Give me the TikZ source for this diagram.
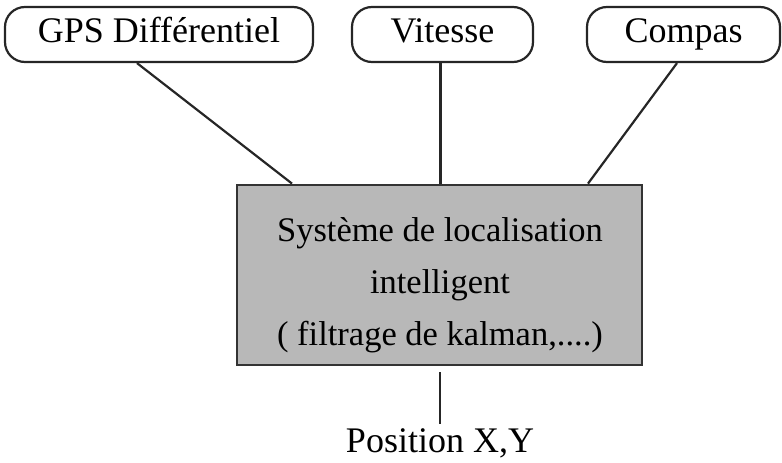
\documentclass[tikz,border=0pt]{standalone}
\usepackage{fontspec}
\setmainfont{Liberation Serif}
\usetikzlibrary{calc}
\begin{document}
\begin{tikzpicture}[x=1pt,y=-1pt,
  sensor/.style={draw=black!85, line width=2.2pt, rounded corners=20pt, minimum height=55pt,
    font=\fontsize{36}{42}\selectfont, text height=24pt, text depth=8pt, inner sep=0pt},
  conn/.style={draw=black!85, line width=2.2pt},
  mainbox/.style={draw=black!80, line width=2.8pt, fill=black!28, minimum width=405pt, minimum height=180pt, inner sep=0pt},
  lbl/.style={font=\fontsize{34.5}{52}\selectfont, align=center, inner sep=0pt}]
\useasboundingbox (0,0) rectangle (782,463);
\node[sensor, minimum width=308pt] (gps) at (159,34.5) {GPS Différentiel};
\node[sensor, minimum width=181pt] (vit) at (442.5,34.5) {Vitesse};
\node[sensor, minimum width=193pt] (cmp) at (683.5,34.5) {Compas};
\node[mainbox] (main) at (439.5,275) {};
\node[lbl] (mainlbl) at (440,285.5) {Système de localisation\\intelligent\\( filtrage de kalman,....)};
\node[font=\fontsize{36}{42}\selectfont, anchor=north, inner sep=4pt] (pos) at (440,424) {Position X,Y};
\draw[conn] ([xshift=-22pt]gps.south) -- ([xshift=-147.5pt]main.north);
\draw[conn] ([xshift=-2pt]vit.south) -- ([xshift=-2pt]vit.south |- main.north);
\draw[conn] ([xshift=-6.5pt]cmp.south) -- ([xshift=148.5pt]main.north);
\draw[conn] ([yshift=-6pt]main.south -| pos.north) -- (pos.north);
\end{tikzpicture}
\end{document}
